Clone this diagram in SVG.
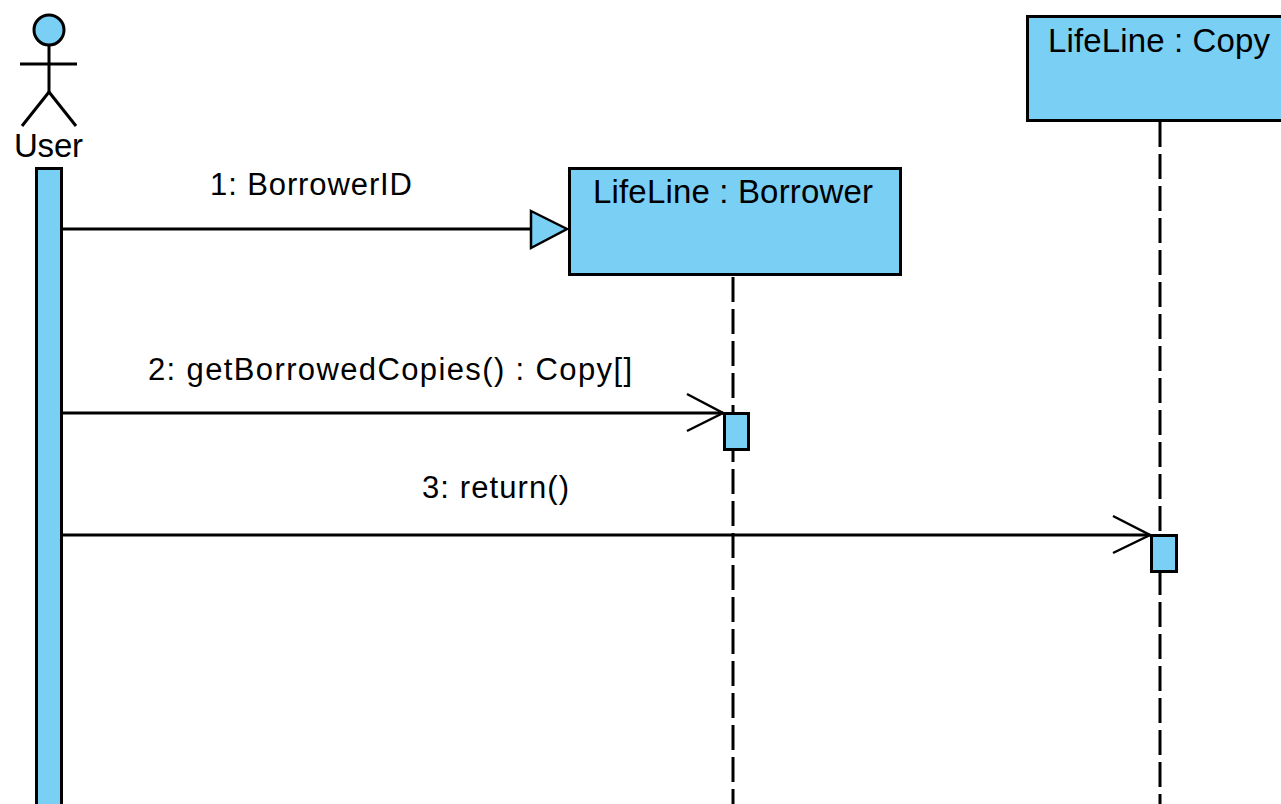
<svg xmlns="http://www.w3.org/2000/svg" width="1281" height="804" viewBox="0 0 1281 804">
  <style>
    .fill { fill: #7ACFF5; stroke: #000; stroke-width: 3; }
    .line { fill: none; stroke: #000; stroke-width: 3; }
    .life { fill: none; stroke: #000; stroke-width: 3; stroke-dasharray: 25 7; }
    .t { font-family: "Liberation Sans", Arial, sans-serif; fill: #000; }
    .lbl { font-size: 31px; }
    .hdr { font-size: 33px; }
  </style>
  <rect x="0" y="0" width="1281" height="804" fill="#fff"/>

  <g id="lifelines">
    <line class="life" x1="733" y1="277" x2="733" y2="804"/>
    <line class="life" x1="1160" y1="122" x2="1160" y2="804"/>
  </g>

  <g id="user">
    <circle class="fill" cx="49" cy="30" r="15"/>
    <line class="line" x1="49" y1="45" x2="49" y2="92"/>
    <line class="line" x1="20" y1="64" x2="77" y2="64"/>
    <polyline class="line" points="22,126 49,92 76,126"/>
    <text class="t hdr" x="14" y="157" textLength="69">User</text>
    <rect class="fill" x="36.5" y="168.5" width="25" height="700"/>
  </g>

  <g id="borrower">
    <rect class="fill" x="569.5" y="168.5" width="331" height="106"/>
    <text class="t hdr" x="593" y="203" textLength="280">LifeLine : Borrower</text>
    <rect class="fill" x="724.5" y="413.5" width="24" height="36"/>
  </g>

  <g id="copy">
    <rect class="fill" x="1027.5" y="16.5" width="300" height="104"/>
    <text class="t hdr" x="1048" y="52" textLength="222">LifeLine : Copy</text>
    <rect class="fill" x="1151.5" y="535.5" width="25" height="36"/>
  </g>

  <g id="connectors">
    <line class="line" x1="62" y1="229" x2="531" y2="229"/>
    <polygon points="531,211 567,229 531,248" fill="#7ACFF5" stroke="#000" stroke-width="2.5" stroke-linejoin="miter"/>
    <text class="t lbl" x="210" y="195" textLength="202">1: BorrowerID</text>

    <line class="line" x1="62" y1="413" x2="723" y2="413"/>
    <polyline points="687,394 723,413 687,431" fill="none" stroke="#000" stroke-width="2.5"/>
    <text class="t lbl" x="148" y="380" textLength="484">2: getBorrowedCopies() : Copy[]</text>

    <line class="line" x1="62" y1="535" x2="1150" y2="535"/>
    <polyline points="1113,516 1150,535 1113,553" fill="none" stroke="#000" stroke-width="2.5"/>
    <text class="t lbl" x="422" y="498" textLength="147">3: return()</text>
  </g>
</svg>
